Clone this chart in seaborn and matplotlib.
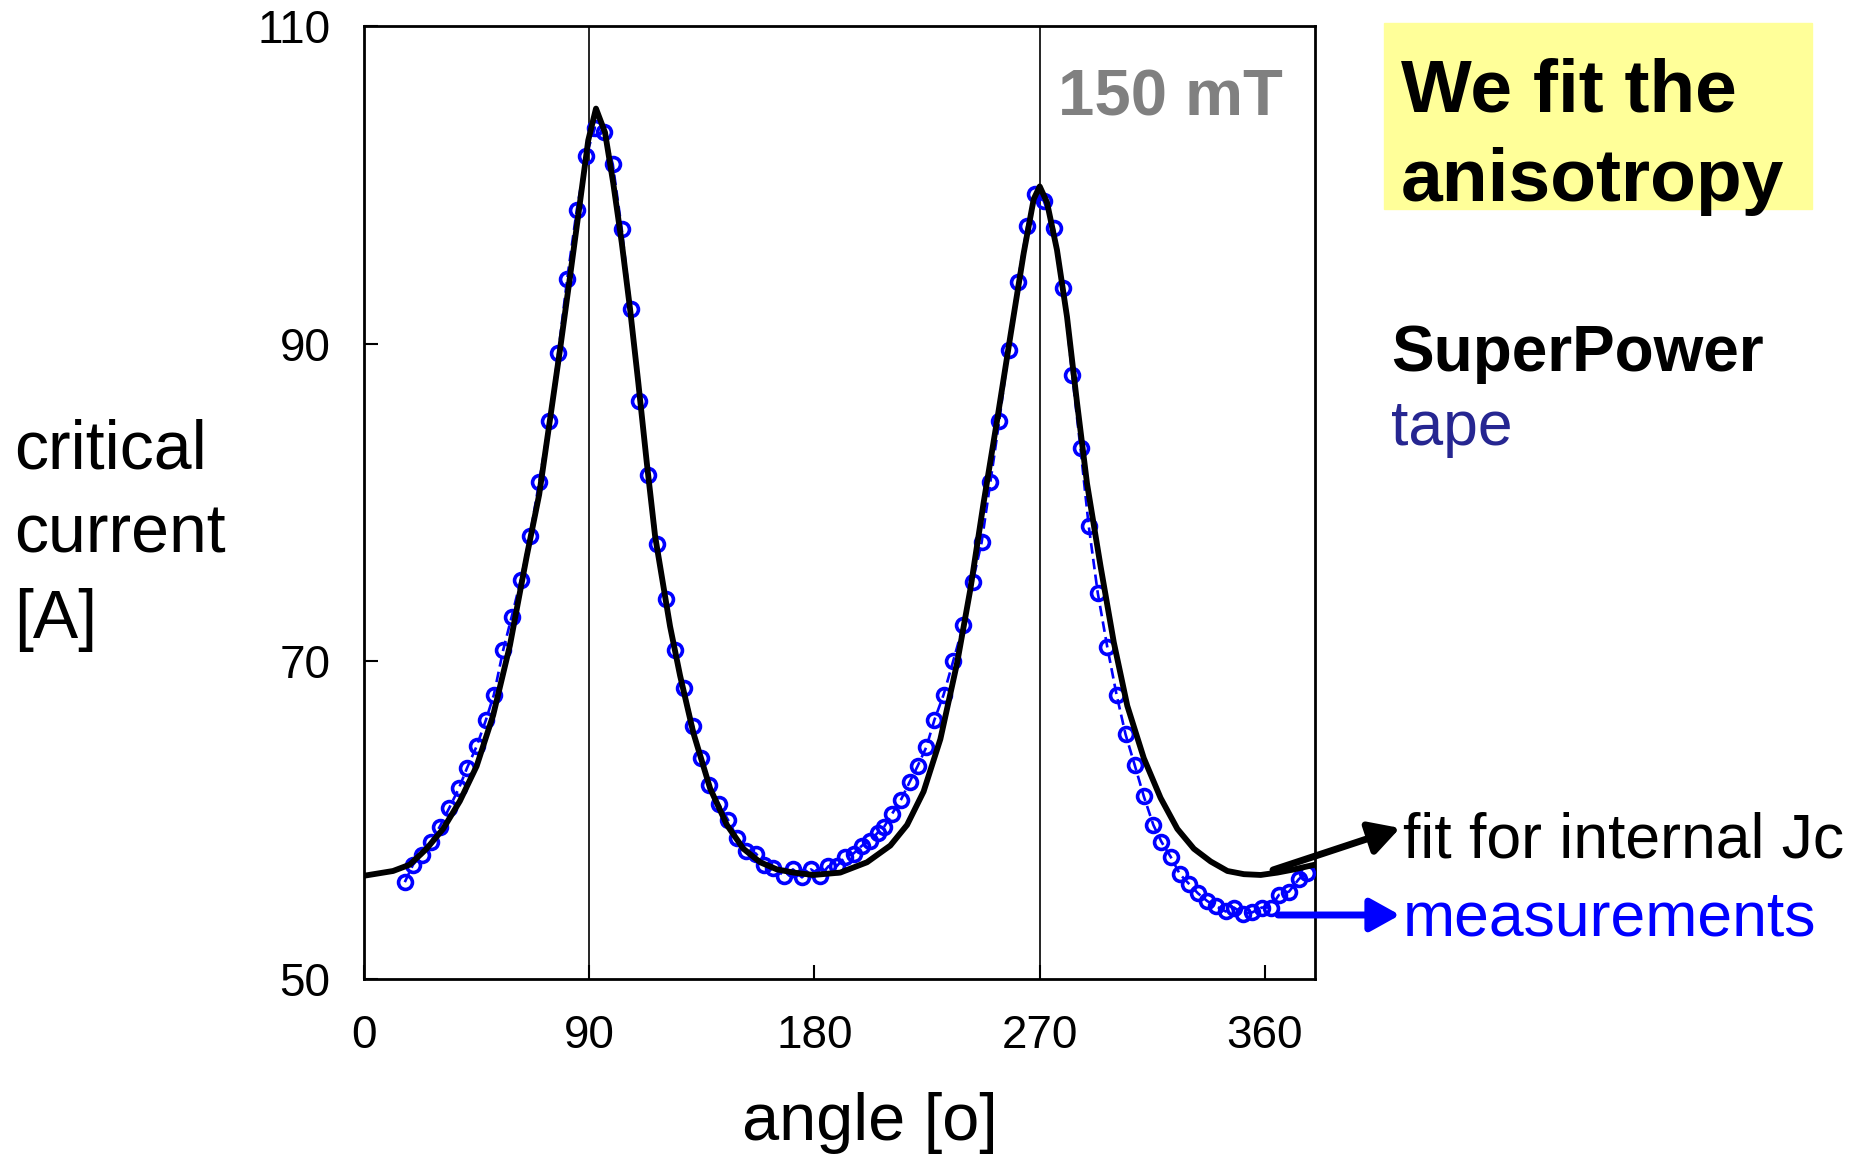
import matplotlib
matplotlib.use("Agg")
import matplotlib.pyplot as plt
from matplotlib.patches import Rectangle
import seaborn as sns

# measured critical current vs field angle (150 mT)
meas_angle = [16.3, 19.6, 23.0, 26.6, 30.3, 34.0, 37.9, 41.2, 45.0, 48.7, 51.9, 55.6,
              59.0, 62.6, 66.3, 70.0, 74.0, 77.6, 81.2, 85.0, 88.7, 92.3, 95.9, 99.4,
              103.0, 106.6, 110.0, 113.6, 117.2, 120.7, 124.4, 127.8, 131.4, 134.6, 138.0,
              141.9, 145.5, 149.1, 152.7, 156.6, 159.9, 163.6, 167.9, 171.4, 175.0, 178.6,
              182.3, 185.6, 188.9, 192.3, 195.6, 199.0, 202.3, 205.2, 207.9, 211.0, 214.6,
              218.0, 221.2, 224.7, 227.9, 231.6, 235.4, 239.5, 243.2, 246.8, 250.3, 253.8,
              257.6, 261.2, 265.0, 268.3, 271.6, 275.6, 279.4, 283.0, 286.3, 289.6, 293.2,
              297.0, 300.7, 304.3, 307.9, 311.6, 315.4, 318.6, 322.3, 326.0, 329.6, 333.2,
              337.0, 340.3, 344.3, 347.6, 351.4, 355.0, 358.7, 362.3, 365.6, 369.6, 373.6,
              377.0]
meas_ic = [56.1, 57.2, 57.8, 58.6, 59.6, 60.75, 62.0, 63.3, 64.65, 66.3, 67.9, 70.7,
           72.8, 75.1, 77.9, 81.3, 85.1, 89.4, 94.1, 98.4, 101.8, 103.6, 103.3, 101.3,
           97.2, 92.2, 86.4, 81.7, 77.4, 73.9, 70.7, 68.3, 65.95, 63.9, 62.2,
           61.0, 60.0, 58.9, 58.05, 57.9, 57.2, 57.0, 56.5, 56.9, 56.4, 56.9,
           56.5, 57.1, 57.1, 57.7, 57.9, 58.4, 58.7, 59.2, 59.6, 60.4, 61.3,
           62.4, 63.4, 64.6, 66.3, 67.9, 70.0, 72.3, 75.0, 77.5, 81.3, 85.1,
           89.6, 93.9, 97.4, 99.45, 99.0, 97.3, 93.5, 88.0, 83.4, 78.5, 74.3,
           70.9, 67.9, 65.4, 63.5, 61.5, 59.7, 58.65, 57.7, 56.6, 56.0, 55.4,
           54.9, 54.6, 54.25, 54.5, 54.1, 54.2, 54.5, 54.5, 55.3, 55.5, 56.3,
           56.7]

# fit for internal Jc
fit_angle = [0, 11.6, 18.3, 25, 31.6, 38.3, 45, 51.6, 58.3, 65, 70, 74.3, 78.3, 82.3,
             86.3, 89.6, 92.7, 96.3, 99.6, 103, 106.3, 109.6, 113, 116.3, 118.3, 122.3,
             126.3, 131.6, 138.3, 145, 151.6, 158.3, 165, 171.6, 179.6, 190.3, 201,
             210.3, 217, 223.6, 230.3, 237, 242.3, 247.6, 253, 258.3, 263.6, 267.6, 270,
             272.9, 276.9, 280.9, 284.9, 288.9, 294.3, 299.6, 305, 311.6, 318.3, 325,
             331.6, 338.3, 345, 351.6, 358.3, 365, 371.6, 380]
fit_ic = [56.5, 56.8, 57.2, 58.2, 59.45, 61.2, 63.4, 66.6, 71.0, 76.6, 80.5, 85.2, 89.6, 94.2,
          98.9, 102.8, 104.8, 103.3, 100.1, 96.35, 92.2, 87.55, 82.5, 77.9, 76.0, 72.2,
          69.1, 65.5, 62.0, 59.7, 58.2, 57.35, 56.9, 56.7, 56.55, 56.7, 57.35,
          58.4, 59.7, 61.8, 65.1, 69.9, 74.55, 80.0, 85.2, 90.5, 95.7, 99.1, 99.9,
          98.9, 95.9, 91.7, 86.3, 81.2, 76.0, 71.2, 67.2, 63.9, 61.4, 59.45,
          58.2, 57.4, 56.8, 56.6, 56.55, 56.7, 56.9, 57.2]

x_ticks = [0, 90, 180, 270, 360]
y_ticks = [50, 70, 90, 110]

sns.set_style("ticks")
plt.rcParams['font.family'] = ['Liberation Sans', 'DejaVu Sans']
plt.rcParams['text.color'] = 'black'
plt.rcParams['axes.labelcolor'] = 'black'

W, H = 1876, 1156
fig = plt.figure(figsize=(W / 100, H / 100), dpi=100)


def fx(px):
    return px / W


def fy(py):
    return 1 - py / H


ax = fig.add_axes([fx(364), fy(979), (1315 - 364) / W, (979 - 26) / H])

for a in (90, 270):
    ax.axvline(a, color="black", lw=1.2, zorder=1)

sns.lineplot(x=meas_angle, y=meas_ic, ax=ax, color="blue", lw=1.9,
             linestyle=(0, (4, 2)), marker="o", markersize=10, mfc="none",
             mec="blue", mew=2.6, zorder=3)
sns.lineplot(x=fit_angle, y=fit_ic, ax=ax, color="black", lw=4.2, zorder=4)

ax.set_xlim(0, 380)
ax.set_ylim(50, 110)
ax.set_xticks(x_ticks)
ax.set_yticks(y_ticks)
ax.tick_params(direction="in", length=10, width=1.5, labelsize=33, colors="black")
ax.tick_params(axis="y", pad=24)
ax.tick_params(axis="x", pad=25)
for s in ax.spines.values():
    s.set_linewidth(2)
    s.set_color("black")

ax.set_xlabel("angle [o]", fontsize=48, color="black")
ax.xaxis.set_label_coords(0.532, -0.1186)
ax.set_ylabel("")

# y label drawn as three lines at the left
for txt, base in zip(["critical", "current", "[A]"], [469, 553, 638]):
    fig.text(fx(14), fy(base), txt, fontsize=49, va="baseline", ha="left")

fig.text(fx(1283), fy(116), "150 mT", fontsize=47, weight="bold", color="#808080",
         ha="right", va="baseline")

# yellow note box
fig.add_artist(Rectangle((fx(1384), fy(209)), (1812 - 1384) / W, (209 - 23) / H,
                         transform=fig.transFigure, color="#FFFF99", zorder=0))
fig.text(fx(1401), fy(112), "We fit the", fontsize=54, weight="bold", va="baseline")
fig.text(fx(1401), fy(201), "anisotropy", fontsize=54, weight="bold", va="baseline")

fig.text(fx(1391), fy(371), "SuperPower", fontsize=46, weight="bold", va="baseline")
fig.text(fx(1391), fy(445), "tape", fontsize=45, color="#262691", va="baseline")

# arrows to the curve labels
fig.text(fx(1403), fy(858), "fit for internal Jc", fontsize=45, va="baseline")
fig.text(fx(1403), fy(935), "measurements", fontsize=45, color="blue", va="baseline")
arrow_style = "-|>,head_length=0.9,head_width=0.5"
ax.annotate("", xy=(fx(1400), fy(828)), xytext=(fx(1273), fy(870)),
            xycoords="figure fraction", textcoords="figure fraction",
            arrowprops=dict(arrowstyle=arrow_style, color="black", lw=5,
                            shrinkA=0, shrinkB=0, mutation_scale=20),
            annotation_clip=False, zorder=6)
ax.annotate("", xy=(fx(1400), fy(915)), xytext=(fx(1278), fy(915)),
            xycoords="figure fraction", textcoords="figure fraction",
            arrowprops=dict(arrowstyle=arrow_style, color="blue", lw=5,
                            shrinkA=0, shrinkB=0, mutation_scale=20),
            annotation_clip=False, zorder=6)

fig.savefig("out.png", dpi=100)
